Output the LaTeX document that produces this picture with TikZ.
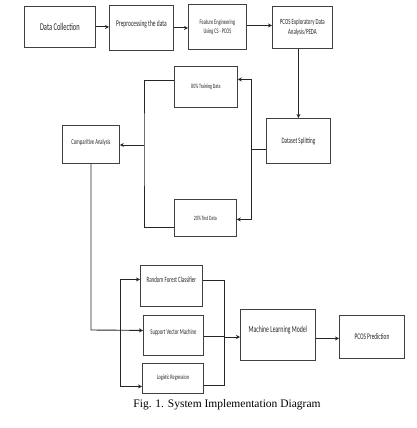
\documentclass[tikz,border=0pt]{standalone}
\usepackage{fontspec}
\setmainfont{Liberation Serif}
\newfontfamily\boxfont{Carlito}[FakeStretch=0.62]
\usetikzlibrary{arrows.meta}
\newcommand{\bx}[1]{\boxfont\fontsize{#1}{#1}\selectfont}
\begin{document}
\begin{tikzpicture}[x=1pt,y=-1pt,
  box/.style={draw=black!75, line width=0.8pt, inner sep=0pt, anchor=north west, align=center, text=black!85},
  conn/.style={line width=0.9pt, draw=black!85},
  arr/.style={conn, -{Stealth[length=4pt,width=4pt]}}]
\fill[white] (0,0) rectangle (416,428);
\useasboundingbox (0,0) rectangle (416,428);
% top row
\node[box, font=\bx{10.4}, minimum width=71pt, minimum height=41pt] (dc) at (24,6) {Data Collection};
\node[box, font=\bx{8.8}, minimum width=64pt, minimum height=45pt] (pre) at (109,5) {\raisebox{3pt}[6pt][2pt]{Preprocessing the data}};
\node[box, font=\bx{7}, minimum width=58pt, minimum height=45pt] (fe) at (188,4) {Feature Engineering\\[2pt]Using CS - PCOS};
\node[box, font=\bx{7.9}, minimum width=60pt, minimum height=42pt] (peda) at (272,6) {PCOS Exploratory Data\\[2pt]Analysis/PEDA};
% split stage
\node[box, font=\bx{6.5}, minimum width=63pt, minimum height=41pt] (train) at (174,66) {80\% Training Data};
\node[box, font=\bx{7.5}, minimum width=57pt, minimum height=38pt] (comp) at (62,125) {\raisebox{2pt}[6pt][2pt]{Comparitive Analysis}};
\node[box, font=\bx{8.2}, minimum width=64pt, minimum height=45pt] (split) at (266,118) {Dataset Splitting};
\node[box, font=\bx{6.5}, minimum width=62pt, minimum height=37pt] (test) at (174,199) {20\% Test Data};
% models
\node[box, font=\bx{8}, minimum width=62pt, minimum height=41pt] (rf) at (140,265) {\raisebox{5pt}[6pt][2pt]{Random Forest Classifier}};
\node[box, font=\bx{7.5}, minimum width=60pt, minimum height=40pt] (svm) at (143,315) {\raisebox{3pt}[6pt][2pt]{Support Vector Machine}};
\node[box, font=\bx{6.8}, minimum width=61pt, minimum height=30pt] (lr) at (142,363) {\raisebox{1pt}[6pt][2pt]{Logistic Regression}};
\node[box, font=\bx{9.3}, minimum width=75pt, minimum height=51pt] (ml) at (240,309) {\raisebox{4pt}[6pt][2pt]{Machine Learning Model}};
\node[box, font=\bx{8.6}, minimum width=65pt, minimum height=43pt] (pred) at (339,315) {PCOS Prediction};
\node[anchor=center, inner sep=0pt, font=\fontsize{11.5}{12}\selectfont] (cap) at (227,405) {Fig. 1. System Implementation Diagram};
% coordinates
\coordinate (sj) at (251,149);
\coordinate (lb) at (144,145);
\coordinate (cd) at (91,330);
\coordinate (mb) at (120,330);
\coordinate (rb) at (224,337);
% top row arrows
\draw[arr] (dc.east) -- (dc.east -| pre.west);
\draw[arr] (pre.east) -- (pre.east -| fe.west);
\draw[arr] ([yshift=1.5pt]fe.east) -- ([yshift=1.5pt]fe.east -| peda.west);
\draw[arr] (split.north |- peda.south) -- (split.north);
% split
\draw[conn] (split.west |- sj) -- (sj);
\draw[arr] (sj) |- ([yshift=7.5pt]train.east);
\draw[arr] (sj) |- ([yshift=-1.5pt]test.east);
\draw[conn] ([yshift=6.5pt]train.west) -| (lb) |- ([yshift=-9.5pt]test.west);
\draw[arr] (lb) -- (lb -| comp.east);
% models
\draw[arr] (comp.south -| cd) -- (cd) -- ([yshift=5pt]svm.west);
\draw[conn] ([yshift=6.5pt]rf.west -| mb) -- ([yshift=-8pt]lr.west -| mb);
\draw[arr] ([yshift=6.5pt]rf.west -| mb) -- ([yshift=6.5pt]rf.west);
\draw[arr] ([yshift=-8pt]lr.west -| mb) -- ([yshift=-8pt]lr.west);
\draw[conn] ([yshift=5.5pt]rf.east) -| (rb);
\draw[conn] ([yshift=-1pt]svm.east) -- ([yshift=-1pt]svm.east -| rb);
\draw[conn] ([yshift=-7pt]lr.east) -| (rb);
\draw[arr] (rb) -- (rb -| ml.west);
\draw[arr] ([yshift=-3.5pt]ml.east) -- ([yshift=-3.5pt]ml.east -| pred.west);
\end{tikzpicture}
\end{document}
